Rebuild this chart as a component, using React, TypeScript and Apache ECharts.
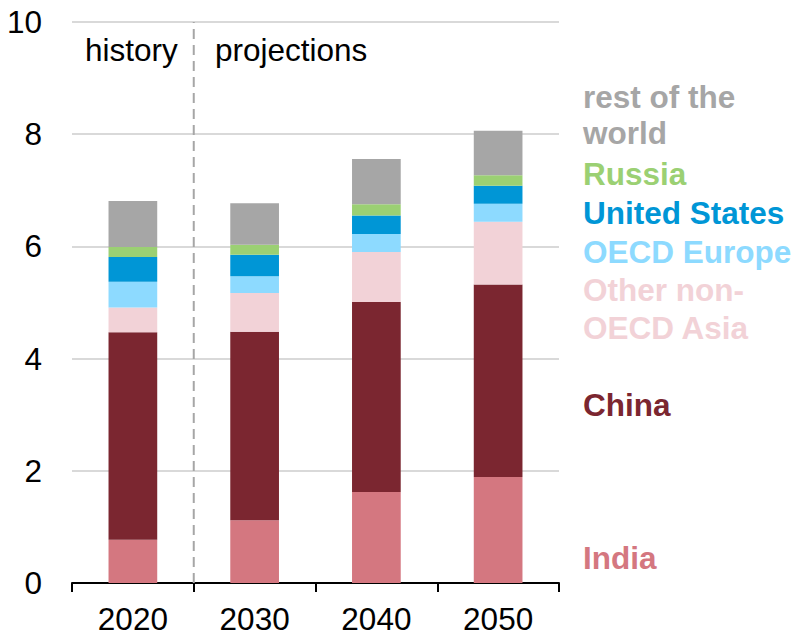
import React, { useEffect, useRef } from "react";
import * as echarts from "echarts";

const categories = ["2020", "2030", "2040", "2050"];
const india = [0.77, 1.12, 1.62, 1.89];
const china = [3.7, 3.36, 3.39, 3.43];
const otherAsia = [0.44, 0.69, 0.89, 1.12];
const oecdEurope = [0.46, 0.3, 0.32, 0.32];
const unitedStates = [0.44, 0.38, 0.33, 0.32];
const russia = [0.18, 0.18, 0.2, 0.19];
const restOfWorld = [0.82, 0.74, 0.81, 0.79];
// history / projections divider, in category-boundary units (0..4)
const dividerAt = [[1, 0], [1, 10]];

const FONT = "'Liberation Sans', Arial, sans-serif";
const FS = 31.5;

export default function App() {
  const ref = useRef<HTMLDivElement>(null);
  useEffect(() => {
    if (!ref.current) return;
    document.body.style.margin = "0";
    document.body.style.overflow = "hidden";
    const chart = echarts.init(ref.current, null, { renderer: "svg" });
    const mk = (name: string, data: number[], color: string) => ({
      name,
      type: "bar",
      stack: "total",
      data,
      barWidth: "40%",
      itemStyle: { color },
      silent: true,
    });
    const label = (text: string, y: number, color: string) => ({
      type: "text",
      x: 583,
      y,
      style: { text, fill: color, font: `bold ${FS}px ${FONT}`, verticalAlign: "middle" },
    });
    chart.setOption({
      animation: false,
      grid: { left: 72, right: 237, top: 22, bottom: 52 },
      xAxis: [
        {
          type: "category",
          data: categories,
          axisLine: { lineStyle: { color: "#000", width: 2 } },
          axisTick: { show: true, length: 9, lineStyle: { color: "#000", width: 2 } },
          axisLabel: { color: "#000", fontSize: FS, fontFamily: FONT, margin: 20 },
        },
        { type: "value", min: 0, max: 4, show: false },
      ],
      yAxis: {
        type: "value",
        min: 0,
        max: 10,
        interval: 2,
        axisLine: { show: false },
        axisTick: { show: false },
        splitLine: { lineStyle: { color: "#d9d9d9", width: 2 } },
        axisLabel: { color: "#000", fontSize: FS, fontFamily: FONT, margin: 30 },
      },
      series: [
        mk("India", india, "#d47780"),
        mk("China", china, "#7b2630"),
        mk("Other non-OECD Asia", otherAsia, "#f2d2d7"),
        mk("OECD Europe", oecdEurope, "#8ddaff"),
        mk("United States", unitedStates, "#0096d6"),
        mk("Russia", russia, "#9bd073"),
        mk("rest of the world", restOfWorld, "#a6a6a6"),
        {
          name: "divider",
          type: "line",
          xAxisIndex: 1,
          data: dividerAt,
          symbol: "none",
          silent: true,
          lineStyle: { color: "#a6a6a6", type: [10, 6], width: 2 },
          z: 1,
        },
      ],
      graphic: [
        { type: "text", x: 85, y: 50, style: { text: "history", fill: "#000", font: `${FS}px ${FONT}`, verticalAlign: "middle" } },
        { type: "text", x: 215, y: 50, style: { text: "projections", fill: "#000", font: `${FS}px ${FONT}`, verticalAlign: "middle" } },
        label("rest of the", 97, "#a6a6a6"),
        label("world", 133, "#a6a6a6"),
        label("Russia", 174, "#9bd073"),
        label("United States", 213, "#0096d6"),
        label("OECD Europe", 252, "#8ddaff"),
        label("Other non-", 290, "#f2d2d7"),
        label("OECD Asia", 328, "#f2d2d7"),
        label("China", 405, "#7b2630"),
        label("India", 558, "#d47780"),
      ],
    });
    return () => chart.dispose();
  }, []);
  return <div ref={ref} style={{ width: 796, height: 635, overflow: "hidden" }} />;
}
